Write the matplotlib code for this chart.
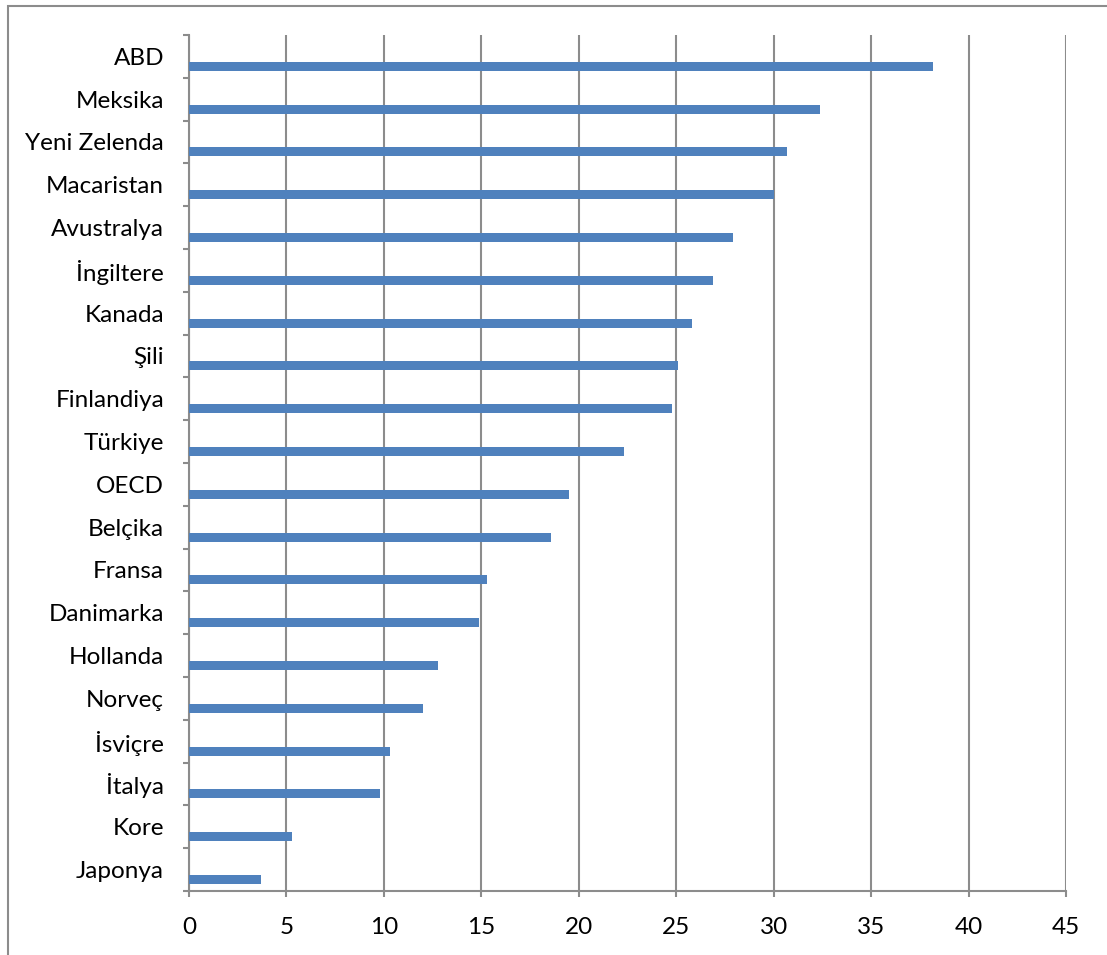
import numpy as np
import matplotlib
matplotlib.use("Agg")
import matplotlib.pyplot as plt
from matplotlib.patches import Rectangle

plt.rcParams['font.family'] = ['Lato', 'DejaVu Sans']

countries = ['ABD', 'Meksika', 'Yeni Zelenda', 'Macaristan', 'Avustralya',
             'İngiltere', 'Kanada', 'Şili', 'Finlandiya', 'Türkiye', 'OECD',
             'Belçika', 'Fransa', 'Danimarka', 'Hollanda', 'Norveç',
             'İsviçre', 'İtalya', 'Kore', 'Japonya']
values = [38.2, 32.4, 30.7, 30.0, 27.9, 26.9, 25.8, 25.1, 24.8, 22.3, 19.5,
          18.6, 15.3, 14.9, 12.8, 12.0, 10.3, 9.8, 5.3, 3.7]
x_ticks = [0, 5, 10, 15, 20, 25, 30, 35, 40, 45]

bar_color = '#4F81BD'
axis_color = '#8C8C8C'

fig = plt.figure(figsize=(11.07, 9.55), dpi=100)
ax = fig.add_axes([189 / 1107, 1 - 891 / 955, (1066 - 189) / 1107, (891 - 35) / 955])

# outer chart frame
fig.patches.append(Rectangle((8 / 1107, -0.05), 1.1, 1 - 6 / 955 + 0.05,
                             transform=fig.transFigure, fill=False,
                             edgecolor=axis_color, linewidth=1.5))

pos = np.arange(len(countries))
# bars sit in the lower part of each category band
ax.barh(pos + 0.23, values, height=0.21, color=bar_color, zorder=3)

ax.set_xlim(0, 45)
ax.set_ylim(len(countries) - 0.5, -0.5)
ax.set_xticks(x_ticks)
ax.set_xticklabels([str(t) for t in x_ticks])
ax.set_yticks(pos)
ax.set_yticklabels(countries)
ax.set_yticks(np.arange(len(countries) + 1) - 0.5, minor=True)

ax.grid(axis='x', color=axis_color, linewidth=1.5, zorder=0)
for side in ['top', 'right']:
    ax.spines[side].set_visible(False)
for side in ['left', 'bottom']:
    ax.spines[side].set_color(axis_color)
    ax.spines[side].set_linewidth(1.5)

ax.tick_params(axis='y', which='major', length=0, pad=18, labelsize=17.5)
ax.tick_params(axis='y', which='minor', length=4.5, width=1.5, color=axis_color)
ax.tick_params(axis='x', length=4.5, width=1.5, color=axis_color, pad=14,
               labelsize=17.5)

fig.savefig('out.png', dpi=100)
